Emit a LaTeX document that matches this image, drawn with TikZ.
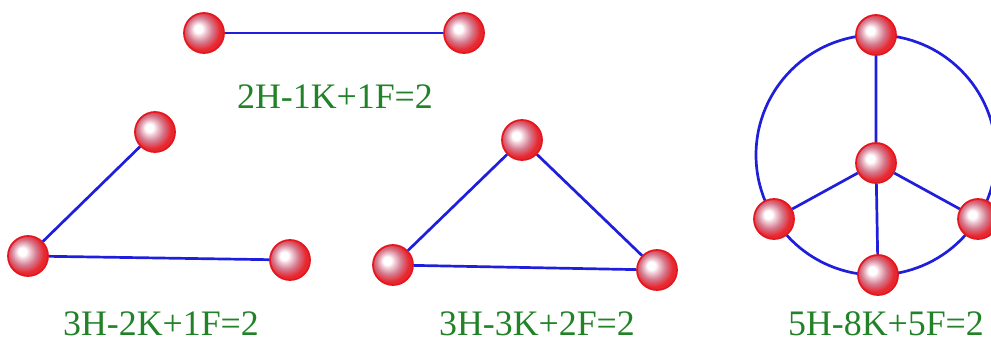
\documentclass[tikz,border=0pt]{standalone}
\usepackage{fontspec}
\setmainfont{Liberation Serif}
\usetikzlibrary{positioning}
\definecolor{ballred}{RGB}{226,24,32}
\definecolor{ballpink}{RGB}{240,200,210}
\definecolor{ballmauve}{RGB}{212,120,140}
\definecolor{balledge}{RGB}{232,40,48}
\definecolor{linkblue}{RGB}{30,30,220}
\definecolor{eqgreen}{RGB}{34,130,40}
\pgfdeclareradialshading{atomshade}{\pgfpoint{-8bp}{6bp}}{color(0bp)=(white); color(5bp)=(white); color(9bp)=(ballpink); color(16bp)=(ballmauve); color(24bp)=(balledge); color(50bp)=(ballred)}

\begin{document}
\begin{tikzpicture}[x=0.3mm,y=-0.3mm,
  atom/.style={circle,minimum size=12mm,inner sep=0pt,draw=ballred,line width=1.5pt,shading=atomshade},
  link/.style={linkblue,line width=2.3pt},
  eq/.style={eqgreen,font=\fontsize{30.6}{36}\selectfont,anchor=base}]
\useasboundingbox (0,0) rectangle (991,341);
% two points
\node[atom] (a1) at (204,33) {};
\node[atom] (b1) at (464,33) {};
\draw[link] (a1) -- (b1);
\node[eq] (q1) at (335,109) {2H-1K+1F=2};
% open path
\node[atom] (a2) at (155,132) {};
\node[atom] (b2) at (28,256) {};
\node[atom] (c2) at (290,260) {};
\draw[link] (a2) -- (b2) -- (c2);
\node[eq] (q2) at (161,335) {3H-2K+1F=2};
% triangle
\node[atom] (a3) at (522,140) {};
\node[atom] (b3) at (393,265) {};
\node[atom] (c3) at (657,270) {};
\draw[link] (a3) -- (b3) -- (c3) -- (a3);
\node[eq] (q3) at (537,335) {3H-3K+2F=2};
% circle with spokes
\coordinate (o4) at (876,155);
\draw[link] (o4) circle[radius=36mm];
\node[atom] (t4) at (876,35) {};
\node[atom] (m4) at (876,163) {};
\node[atom] (l4) at (774,219) {};
\node[atom] (r4) at (978,219) {};
\node[atom] (d4) at (878,275) {};
\draw[link] (m4) -- (t4) (m4) -- (l4) (m4) -- (r4) (m4) -- (d4);
\node[eq] (q4) at (886,335) {5H-8K+5F=2};
\end{tikzpicture}
\end{document}
